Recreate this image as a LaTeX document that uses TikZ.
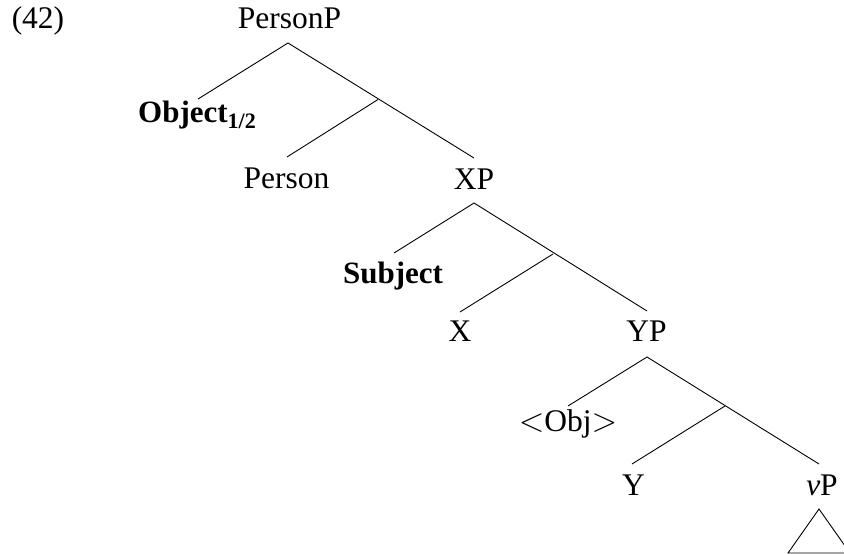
\documentclass[tikz,border=0pt]{standalone}
\usepackage{fontspec}
\setmainfont{Liberation Serif}
\newcommand{\angl}[1]{\raisebox{-0.02em}{\scalebox{1.35}{$#1$}}}
\begin{document}
\begin{tikzpicture}[x=1pt,y=-1pt,
  lbl/.style={anchor=base,inner sep=0pt,font=\fontsize{31.5}{34}\selectfont},
  blbl/.style={anchor=base,inner sep=0pt,font=\fontsize{31}{34}\selectfont\bfseries},
  br/.style={line width=0.9pt}]
\useasboundingbox (0,0) rectangle (844,554);
% labels
\node[lbl] (num) at (38,28.5) {(42)};
\node[lbl] (PersonP) at (289.5,28.5) {PersonP};
\node[blbl] (Obj) at (197,122) {Object\raisebox{-0.22em}{\fontsize{22}{23}\selectfont 1/2}};
\node[lbl] (Person) at (286.5,188) {Person};
\node[lbl] (XP) at (474,189.5) {XP};
\node[blbl] (Subj) at (393,283) {Subject};
\node[lbl] (X) at (460,341.5) {X};
\node[lbl] (YP) at (646.5,341) {YP};
\node[lbl] (ObjT) at (568,431) {\angl{<}Obj\angl{>}};
\node[lbl] (Y) at (633.5,495) {Y};
\node[lbl] (vP) at (822,495) {\textit{v}P};
% branch points
\coordinate (PPt) at (288,43);
\coordinate (PPl) at (198,99);
\coordinate (PPm) at (378,99.5);
\coordinate (PPr) at (474,158);
\coordinate (Pl) at (287,157);
\coordinate (XPt) at (474,203);
\coordinate (XPl) at (394,253);
\coordinate (XPm) at (553,254);
\coordinate (XPr) at (647,311);
\coordinate (Xl) at (460,312);
\coordinate (YPt) at (647,357);
\coordinate (YPl) at (568,406);
\coordinate (YPm) at (725,406);
\coordinate (YPr) at (819,464);
\coordinate (Yl) at (632,464);
\coordinate (Ta) at (819,509);
\coordinate (Tl) at (788,553);
\coordinate (Tr) at (850,553);
% lines
\draw[br] (PPl) -- (PPt) -- (PPr);
\draw[br] (PPm) -- (Pl);
\draw[br] (XPl) -- (XPt) -- (XPr);
\draw[br] (XPm) -- (Xl);
\draw[br] (YPl) -- (YPt) -- (YPr);
\draw[br] (YPm) -- (Yl);
\draw[br] (Ta) -- (Tl) -- (Tr) -- cycle;
\end{tikzpicture}
\end{document}
